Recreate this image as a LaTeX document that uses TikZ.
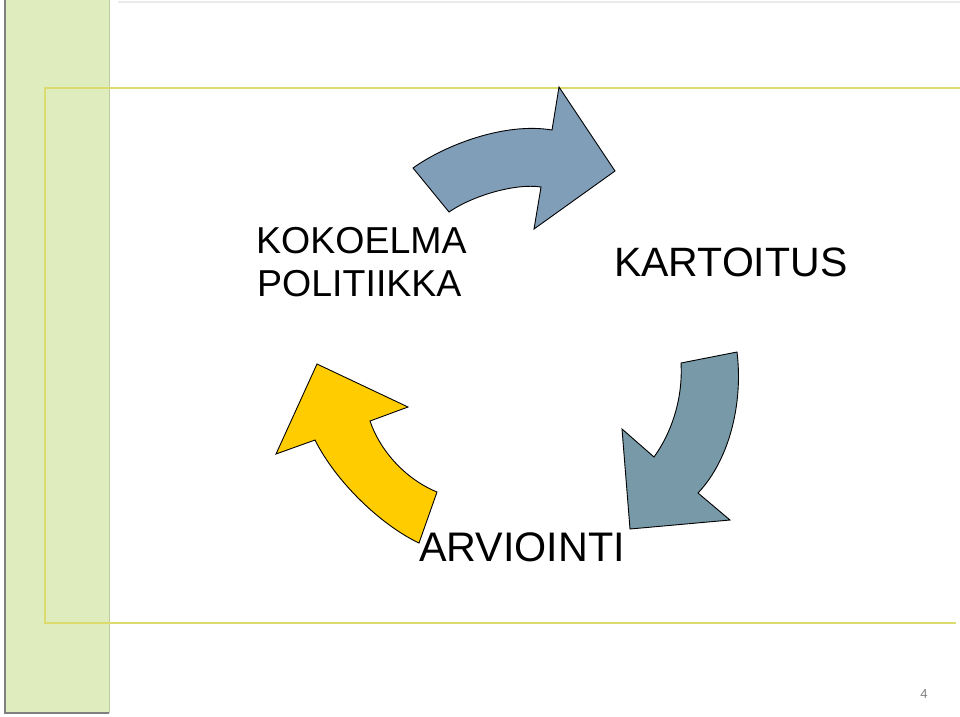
\documentclass[tikz,border=0pt]{standalone}
\usepackage{fontspec}
\setmainfont{Liberation Sans}
\begin{document}
\begin{tikzpicture}[x=1pt,y=-1pt,
  arrowshape/.style={draw=black,line width=0.9pt,line join=miter},
  frameline/.style={draw={rgb,255:red,220;green,220;blue,110},line width=1.4pt},
  label/.style={inner sep=0pt,text=black}]
\definecolor{stripgreen}{RGB}{222,236,190}
\definecolor{stripedge}{RGB}{190,205,160}
\definecolor{topblue}{RGB}{128,158,184}
\definecolor{rightblue}{RGB}{120,154,168}
\definecolor{arrowyellow}{RGB}{255,204,0}
\useasboundingbox (0,0) rectangle (960,716);
\fill[white] (0,0) rectangle (960,716);
% left green strip
\fill[stripgreen] (5,0) rectangle (109,713);
\draw[stripedge,line width=1pt] (109,0) -- (109,713);
\draw[gray,line width=1.2pt] (5,0) -- (5,713) -- (109,713);
% top light band
\draw[black!8,line width=2pt] (118,2) -- (960,2);
% yellow frame lines
\draw[frameline] (960,88) -- (45,88) -- (45,623) -- (956,623);
% top arrow
\path[arrowshape,fill=topblue]
  (413,168) .. controls (445,145) and (505,122) .. (552,130)
  -- (559,87) -- (615,171) -- (534,229) -- (541,187)
  .. controls (515,183) and (472,196) .. (449,212) -- cycle;
% right arrow
\path[arrowshape,fill=rightblue]
  (681,363) -- (737,352)
  .. controls (743,400) and (731,458) .. (698,493)
  -- (730,520) -- (630,529) -- (622,429) -- (654,457)
  .. controls (672,432) and (683,398) .. (681,363) -- cycle;
% left arrow
\path[arrowshape,fill=arrowyellow]
  (317,364) -- (408,407) -- (370,421)
  .. controls (379,448) and (403,478) .. (437,492)
  -- (419,543)
  .. controls (381,525) and (336,482) .. (315,440)
  -- (276,454) -- cycle;
% texts
\node[label,font=\fontsize{37.5}{43}\selectfont,anchor=base west] (kokoelma) at (256,253) {KOKOELMA};
\node[label,font=\fontsize{37.5}{43}\selectfont,anchor=base west] (politiikka) at (257,296) {POLITIIKKA};
\node[label,font=\fontsize{41}{45}\selectfont,anchor=base west] (kartoitus) at (614,276) {KARTOITUS};
\node[label,font=\fontsize{41.3}{42}\selectfont,anchor=base west] (arviointi) at (419,561) {ARVIOINTI};
\node[label,font=\fontsize{13}{14}\selectfont,text=black!50,anchor=base] (pagenum) at (924,698) {4};
\end{tikzpicture}
\end{document}
